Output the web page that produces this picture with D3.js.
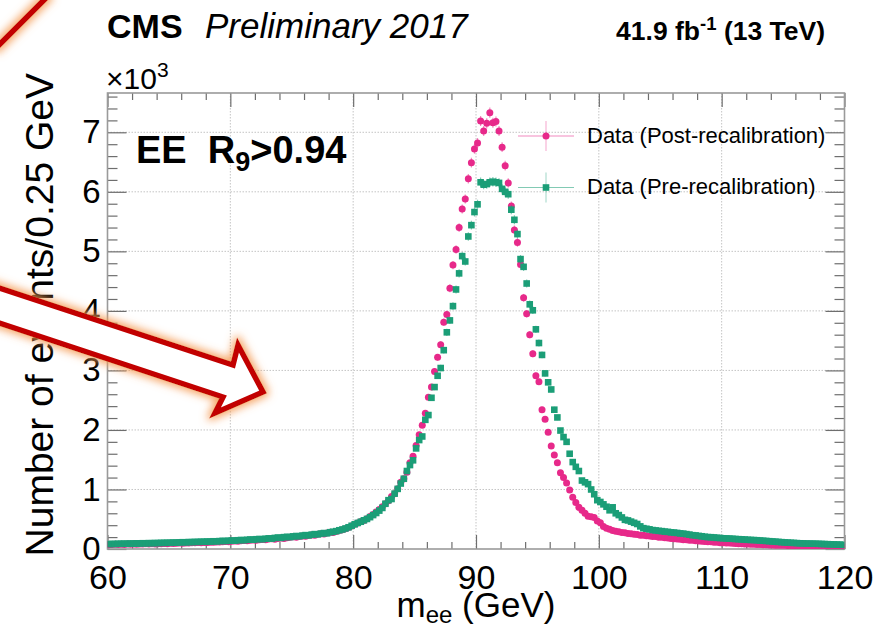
<!DOCTYPE html>
<html><head><meta charset="utf-8">
<script src="https://cdn.jsdelivr.net/npm/d3@7"></script>
<style>
body{margin:0;background:#fff;}
svg{display:block;font-family:"Liberation Sans",Arial,Helvetica,sans-serif;}
</style></head><body>
<svg id="c" width="877" height="629"></svg>
<script>
// ---------------- data ----------------
const xMin = 60, xMax = 120, binWidth = 0.25;   // GeV, 240 bins
const yMaxThousands = 7.66;
const xTickValues = [60, 70, 80, 90, 100, 110, 120];
const yTickValues = [0, 1, 2, 3, 4, 5, 6, 7];
const seriesNames = ["Data (Post-recalibration)", "Data (Pre-recalibration)"];
const seriesColors = ["#E7298A", "#1B9E77"];

// events per 0.25 GeV bin, Post-recalibration (pink circles)
const postValues = [
  72, 75, 78, 74, 80, 77, 82, 79, 84, 81, 85, 83, 87, 84, 89, 86, 90, 88, 93, 90,
  95, 92, 97, 99, 96, 102, 100, 105, 103, 108, 106, 111, 109, 114, 112, 118, 116, 121, 125, 122,
  132, 136, 131, 140, 144, 139, 148, 152, 147, 157, 161, 156, 166, 171, 165, 177, 183, 176, 190, 196,
  205, 199, 212, 219, 213, 228, 236, 231, 246, 255, 250, 268, 280, 276, 295, 310, 322, 340, 362, 385,
  415, 435, 460, 480, 510, 545, 580, 620, 665, 710, 760, 810, 880, 930, 1010, 1120, 1180, 1290, 1450, 1560,
  1740, 1920, 2080, 2280, 2550, 2720, 2980, 3220, 3430, 3810, 3940, 4380, 4770, 5030,
  5400, 5710, 5880, 6220, 6490, 6720, 6820, 7190, 7020, 7150, 7330, 7160, 7180, 7020, 6750, 6440, 6150,
  5760, 5360, 5150, 4780, 4220, 3950, 3600, 3280, 2910, 2810, 2340, 2180, 1960, 1730, 1580, 1450, 1280,
  1200, 1110, 990, 870, 780, 700, 650, 600, 550, 540, 530, 470, 440, 380, 350, 330, 310, 300,
  290, 278, 272, 260, 257, 246, 244, 233, 231, 224, 220, 212, 208, 199, 196, 188, 186, 177, 174, 166,
  164, 156, 154, 146, 145, 138, 136, 129, 128, 121, 121, 114, 113, 107, 106, 101, 100, 95, 94, 89,
  89, 84, 84, 80, 80, 76, 76, 72, 72, 68, 68, 64, 64, 61, 61, 57, 58, 54, 55, 51,
  52, 49, 49, 46, 47, 44, 45, 42, 43, 40, 41, 38, 39, 36
];
// events per 0.25 GeV bin, Pre-recalibration (green squares)
const preValues = [
  82, 86, 84, 89, 87, 91, 88, 93, 90, 95, 92, 97, 95, 99, 97, 101, 99, 104, 102, 106,
  104, 109, 107, 111, 114, 112, 117, 115, 120, 118, 123, 121, 126, 124, 130, 128, 133, 136, 134, 139,
  143, 140, 147, 151, 148, 155, 159, 156, 164, 168, 164, 173, 178, 175, 186, 192, 187, 199, 204, 200,
  212, 218, 214, 226, 233, 229, 242, 250, 246, 260, 268, 264, 282, 290, 300, 315, 328, 345, 365, 390,
  415, 438, 458, 482, 505, 535, 570, 605, 645, 690, 760, 820, 840, 930, 1010, 1100, 1180, 1310, 1410, 1490,
  1690, 1830, 1890, 2170, 2250, 2540, 2720, 2910, 3040, 3340, 3640, 3840, 4080, 4360,
  4630, 4920, 4830, 5250, 5440, 5660, 5790, 6160, 6120, 6130, 6160, 6170, 6160, 6150, 6050, 6000, 5960,
  5700, 5530, 5290, 4870, 4740, 4460, 4110, 4010, 3690, 3460, 3260, 2950, 2800, 2680, 2340, 2210, 1990,
  1880, 1800, 1600, 1460, 1380, 1310, 1150, 1120, 1090, 1000, 920, 820, 790, 750, 710, 650, 700, 600,
  570, 530, 490, 480, 460, 440, 420, 380, 350, 340,
  330, 318, 312, 305, 300, 292, 288, 280, 276, 270, 262, 258, 250, 242, 232, 228, 220, 214, 206, 200,
  198, 194, 188, 185, 180, 178, 175, 172, 168, 165, 162, 159, 155, 152, 150, 147, 143, 139, 135, 131,
  127, 123, 119, 115, 111, 108, 105, 102, 99, 96, 94, 92, 91, 90, 89, 87, 85, 83, 81, 79, 77, 75, 73, 70
];

// ---------------- layout ----------------
const W = 877, H = 629;
const F = {left: 107.5, right: 844.5, top: 93, bottom: 549};
const svg = d3.select("#c");
const x = d3.scaleLinear().domain([xMin, xMax]).range([F.left, F.right]);
const y = d3.scaleLinear().domain([0, yMaxThousands * 1000]).range([F.bottom, F.top]);

const defs = svg.append("defs");
const glow = defs.append("filter").attr("id", "glow")
  .attr("x", "-30%").attr("y", "-30%").attr("width", "160%").attr("height", "160%");
glow.append("feMorphology").attr("in", "SourceAlpha").attr("operator", "dilate").attr("radius", 2).attr("result", "d");
glow.append("feGaussianBlur").attr("in", "d").attr("stdDeviation", 4).attr("result", "b");
glow.append("feFlood").attr("flood-color", "#f59a52").attr("flood-opacity", 0.9).attr("result", "f");
glow.append("feComposite").attr("in", "f").attr("in2", "b").attr("operator", "in").attr("result", "g");
const gm = glow.append("feMerge");
gm.append("feMergeNode").attr("in", "g");
gm.append("feMergeNode").attr("in", "SourceGraphic");

// grid
const grid = svg.append("g").attr("stroke", "#c4c4c4").attr("stroke-width", 1).attr("stroke-dasharray", "1.5,1.5");
grid.selectAll("line.gx").data(xTickValues.slice(1, -1)).join("line")
  .attr("x1", d => x(d)).attr("x2", d => x(d)).attr("y1", F.top).attr("y2", F.bottom);
grid.selectAll("line.gy").data(yTickValues.slice(1)).join("line")
  .attr("y1", d => y(d * 1000)).attr("y2", d => y(d * 1000)).attr("x1", F.left).attr("x2", F.right);

// axes (ticks inward, mirrored)
function styleAxis(g) {
  g.select(".domain").remove();
  g.selectAll(".tick line").attr("stroke", "#6e6e6e").attr("stroke-width", 1.2);
  g.selectAll("text").attr("fill", "#000").attr("font-family", "Liberation Sans, Arial, sans-serif");
}
const xMinor = d3.range(xMin, xMax + 0.001, 2).filter(v => !xTickValues.includes(v));
const yMinor = d3.range(0, yMaxThousands * 1000, 200).filter(v => v % 1000 !== 0);

svg.append("g").attr("transform", `translate(0,${F.bottom})`)
  .call(d3.axisBottom(x).tickValues(xTickValues).tickSize(-14).tickPadding(16).tickFormat(d3.format("d")))
  .call(styleAxis).call(g => g.selectAll("text").attr("font-size", 34));
svg.append("g").attr("transform", `translate(0,${F.bottom})`)
  .call(d3.axisBottom(x).tickValues(xMinor).tickSize(-7).tickFormat("")).call(styleAxis);
svg.append("g").attr("transform", `translate(0,${F.top})`)
  .call(d3.axisTop(x).tickValues(xTickValues).tickSize(-14).tickFormat("")).call(styleAxis);
svg.append("g").attr("transform", `translate(0,${F.top})`)
  .call(d3.axisTop(x).tickValues(xMinor).tickSize(-7).tickFormat("")).call(styleAxis);

svg.append("g").attr("transform", `translate(${F.left},0)`)
  .call(d3.axisLeft(y).tickValues(yTickValues.map(v => v * 1000)).tickSize(-19).tickPadding(7).tickFormat(d => d / 1000))
  .call(styleAxis).call(g => g.selectAll("text").attr("font-size", 33));
svg.append("g").attr("transform", `translate(${F.left},0)`)
  .call(d3.axisLeft(y).tickValues(yMinor).tickSize(-10).tickFormat("")).call(styleAxis);
svg.append("g").attr("transform", `translate(${F.right},0)`)
  .call(d3.axisRight(y).tickValues(yTickValues.map(v => v * 1000)).tickSize(-19).tickFormat("")).call(styleAxis);
svg.append("g").attr("transform", `translate(${F.right},0)`)
  .call(d3.axisRight(y).tickValues(yMinor).tickSize(-10).tickFormat("")).call(styleAxis);

// frame
svg.append("rect").attr("x", F.left).attr("y", F.top).attr("width", F.right - F.left).attr("height", F.bottom - F.top)
  .attr("fill", "none").attr("stroke", "#9a9a9a").attr("stroke-width", 1.6);

// data
const series = [
  {name: seriesNames[0], color: seriesColors[0], values: postValues, shape: "circle"},
  {name: seriesNames[1], color: seriesColors[1], values: preValues, shape: "square"}
];
const clip = defs.append("clipPath").attr("id", "fr").append("rect")
  .attr("x", F.left).attr("y", F.top).attr("width", F.right - F.left).attr("height", F.bottom - F.top);
const dataG = svg.append("g").attr("clip-path", "url(#fr)");
const R = 3.5, S = 6.6;
series.forEach(s => {
  const pts = s.values.map((v, i) => ({m: xMin + binWidth * (i + 0.5), v}));
  const g = dataG.append("g");
  g.selectAll("line.ev").data(pts).join("line")
    .attr("x1", d => x(d.m)).attr("x2", d => x(d.m))
    .attr("y1", d => y(d.v - Math.sqrt(d.v))).attr("y2", d => y(d.v + Math.sqrt(d.v)))
    .attr("stroke", s.color).attr("stroke-opacity", 0.55).attr("stroke-width", 1.2);
  if (s.shape === "circle") {
    g.selectAll("circle").data(pts).join("circle")
      .attr("cx", d => x(d.m)).attr("cy", d => y(d.v)).attr("r", R).attr("fill", s.color);
  } else {
    g.selectAll("rect").data(pts).join("rect")
      .attr("x", d => x(d.m) - S / 2).attr("y", d => y(d.v) - S / 2).attr("width", S).attr("height", S).attr("fill", s.color);
  }
});

// legend
const legY = [136, 187.5];
series.forEach((s, k) => {
  const g = svg.append("g");
  g.append("line").attr("x1", 518).attr("x2", 574).attr("y1", legY[k]).attr("y2", legY[k])
    .attr("stroke", s.color).attr("stroke-opacity", 0.55).attr("stroke-width", 1.2);
  g.append("line").attr("x1", 546).attr("x2", 546).attr("y1", legY[k] - 15).attr("y2", legY[k] + 15)
    .attr("stroke", s.color).attr("stroke-opacity", 0.35).attr("stroke-width", 1.2);
  if (s.shape === "circle") g.append("circle").attr("cx", 546).attr("cy", legY[k]).attr("r", R).attr("fill", s.color);
  else g.append("rect").attr("x", 546 - S / 2).attr("y", legY[k] - S / 2).attr("width", S).attr("height", S).attr("fill", s.color);
  g.append("text").attr("x", 587).attr("y", legY[k] + 6.5).attr("font-size", 22).text(s.name);
});

// texts
svg.append("text").attr("x", 107).attr("y", 38).attr("font-size", 34).attr("font-weight", "bold").text("CMS");
svg.append("text").attr("x", 205).attr("y", 38).attr("font-size", 35).attr("font-style", "italic").text("Preliminary 2017");
const lumi = svg.append("text").attr("x", 825).attr("y", 40).attr("font-size", 26.5).attr("font-weight", "bold").attr("text-anchor", "end");
lumi.append("tspan").text("41.9 fb");
lumi.append("tspan").attr("dy", -10).attr("font-size", 18.5).text("-1");
lumi.append("tspan").attr("dy", 10).text(" (13 TeV)");

const ex = svg.append("text").attr("x", 106).attr("y", 89).attr("font-size", 30);
ex.append("tspan").text("\u00d710");
ex.append("tspan").attr("dy", -12).attr("font-size", 21).text("3");

const lab = svg.append("text").attr("x", 136).attr("y", 163).attr("font-size", 38).attr("font-weight", "bold");
lab.append("tspan").text("EE\u00a0\u00a0R");
lab.append("tspan").attr("dy", 8).attr("font-size", 27).text("9");
lab.append("tspan").attr("dy", -8).text(">0.94");

const xt = svg.append("text").attr("x", (F.left + F.right) / 2).attr("y", 617).attr("font-size", 35).attr("text-anchor", "middle");
xt.append("tspan").text("m");
xt.append("tspan").attr("dy", 6).attr("font-size", 24).text("ee");
xt.append("tspan").attr("dy", -6).text(" (GeV)");

svg.append("text").attr("transform", `translate(53,73) rotate(-90)`)
  .attr("text-anchor", "end").attr("font-size", 39).text("Number of events/0.25 GeV");

// annotation arrow
const arrowPts = [[-20, 281.7], [233, 365], [238, 345], [263, 392], [215, 413], [223, 397], [-20, 316.7]];
svg.append("path").attr("d", d3.line()(arrowPts) + "Z")
  .attr("fill", "#fff").attr("stroke", "#c20000").attr("stroke-width", 5.5).attr("stroke-linejoin", "miter")
  .attr("filter", "url(#glow)");
svg.append("path").attr("d", d3.line()([[-5, 49], [49, -5]]))
  .attr("fill", "none").attr("stroke", "#c20000").attr("stroke-width", 5.5).attr("filter", "url(#glow)");
</script>
</body></html>
